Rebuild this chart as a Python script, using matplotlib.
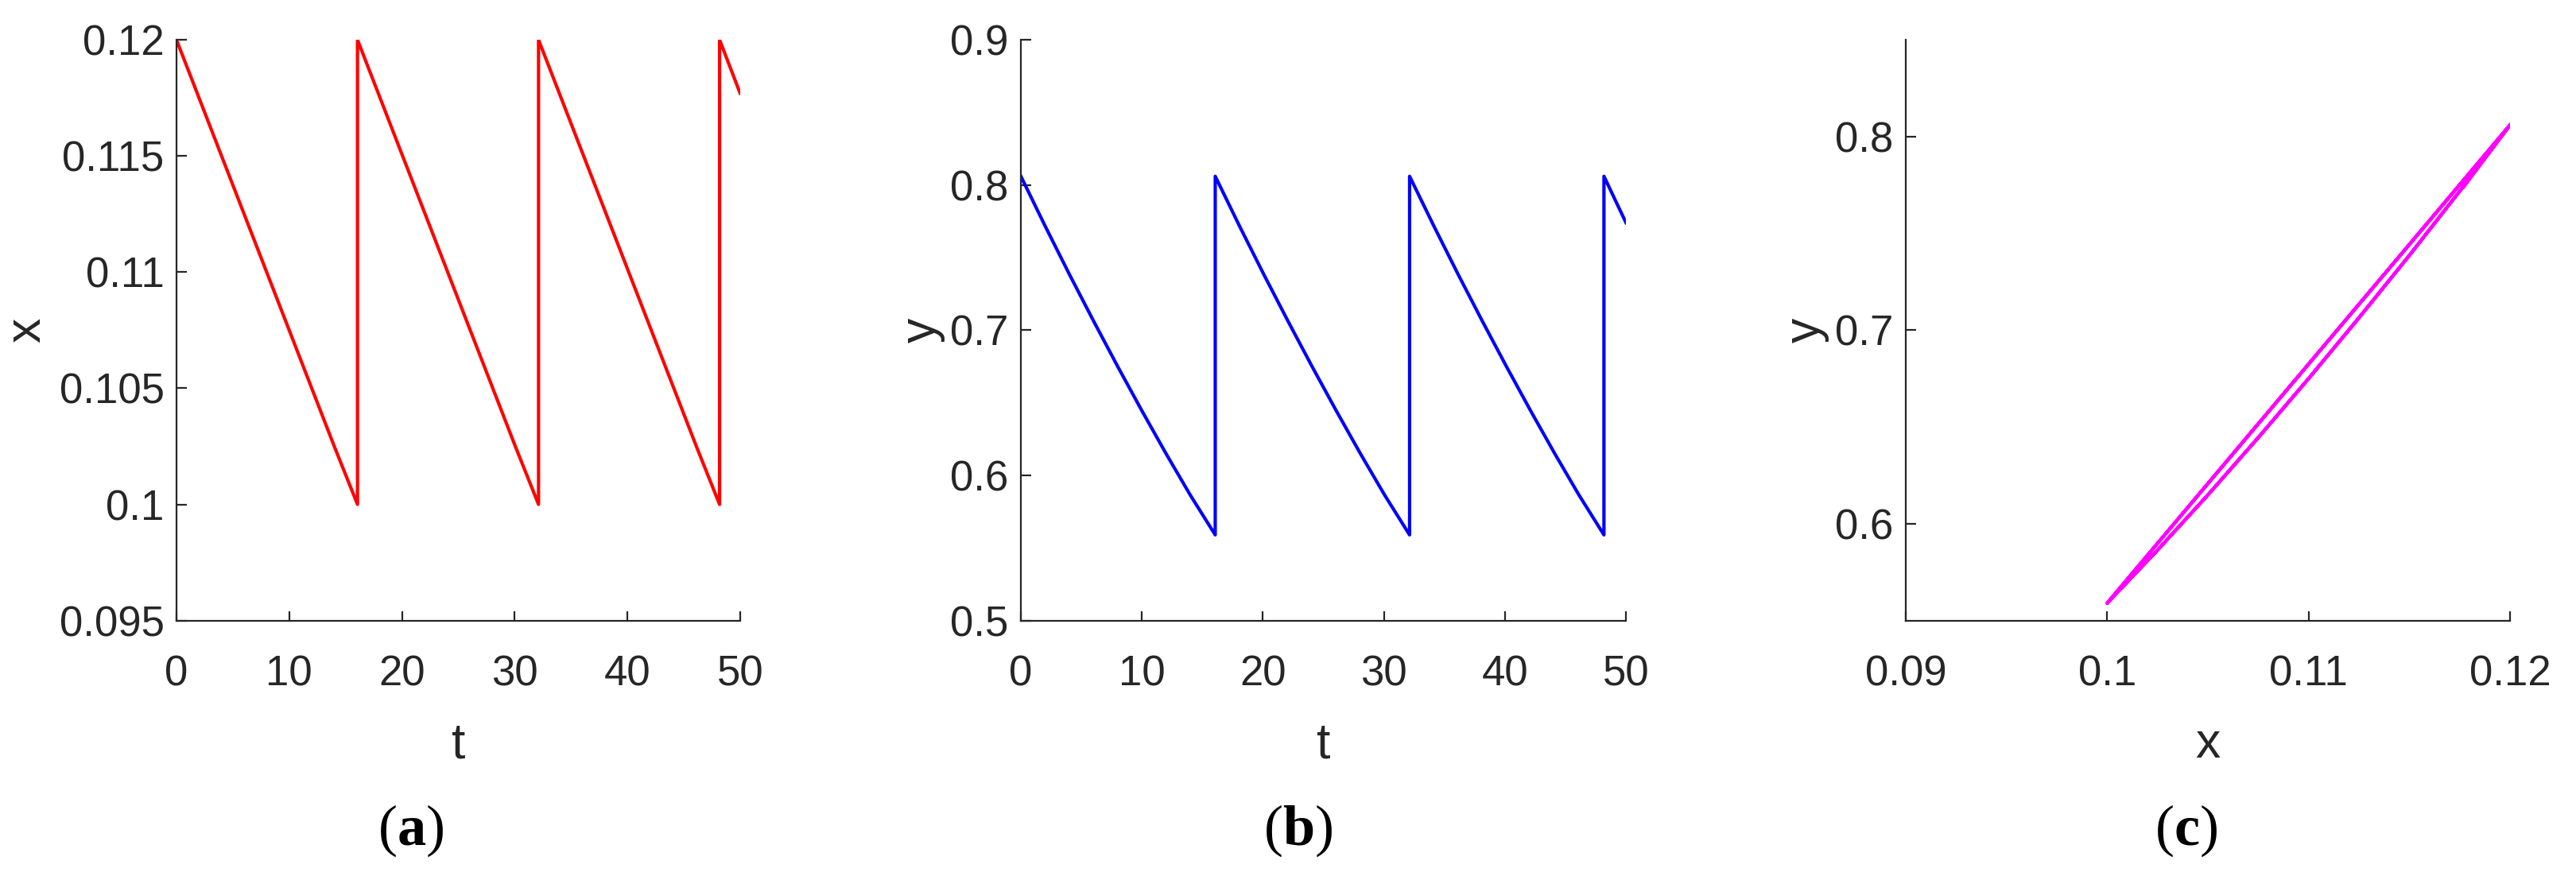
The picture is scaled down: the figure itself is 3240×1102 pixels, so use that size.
import matplotlib
matplotlib.use("Agg")
import matplotlib.pyplot as plt
from matplotlib.ticker import FixedLocator

# trajectory (vertical jumps = repeated t)
t_vals = [0, 2, 4, 6, 8, 10, 12, 14, 16.06,
          16.06, 18.06, 20.06, 22.06, 24.06, 26.06, 28.06, 30.06, 32.12,
          32.12, 34.12, 36.12, 38.12, 40.12, 42.12, 44.12, 46.12, 48.18,
          48.18, 50]
x_vals = [0.12, 0.1175, 0.1150, 0.1125, 0.1100, 0.1075, 0.1050, 0.1025, 0.1000,
          0.12, 0.1175, 0.1150, 0.1125, 0.1100, 0.1075, 0.1050, 0.1025, 0.1000,
          0.12, 0.1175, 0.1150, 0.1125, 0.1100, 0.1075, 0.1050, 0.1025, 0.1000,
          0.12, 0.1177]
y_vals = [0.806, 0.7718, 0.7386, 0.7064, 0.6750, 0.6445, 0.6149, 0.5864, 0.559,
          0.806, 0.7718, 0.7386, 0.7064, 0.6750, 0.6445, 0.6149, 0.5864, 0.559,
          0.806, 0.7718, 0.7386, 0.7064, 0.6750, 0.6445, 0.6149, 0.5864, 0.559,
          0.806, 0.774]

t_ticks = [0, 10, 20, 30, 40, 50]
xa_ticks = [0.095, 0.1, 0.105, 0.11, 0.115, 0.12]
yb_ticks = [0.5, 0.6, 0.7, 0.8, 0.9]
xc_ticks = [0.09, 0.1, 0.11, 0.12]
yc_ticks = [0.6, 0.7, 0.8]
panel_tags = ["a", "b", "c"]

plt.rcParams["font.family"] = ["Liberation Sans", "DejaVu Sans"]
plt.rcParams["mathtext.fontset"] = "custom"
plt.rcParams["mathtext.rm"] = "Liberation Serif"
plt.rcParams["mathtext.bf"] = "Liberation Serif:bold"

INK = "#262626"
TICK_FS = 38
LABEL_FS = 45


def fmt(v):
    s = ("%.3f" % v).rstrip("0").rstrip(".")
    return s


def style(ax, xticks, yticks):
    for side in ("top", "right"):
        ax.spines[side].set_visible(False)
    for side in ("left", "bottom"):
        ax.spines[side].set_color(INK)
        ax.spines[side].set_linewidth(1.6)
    ax.xaxis.set_major_locator(FixedLocator(xticks))
    ax.yaxis.set_major_locator(FixedLocator(yticks))
    ax.set_xticklabels([fmt(v) for v in xticks])
    ax.set_yticklabels([fmt(v) for v in yticks])
    ax.tick_params(axis="both", direction="in", length=9, width=1.6, color=INK,
                   labelcolor=INK, labelsize=TICK_FS)
    ax.tick_params(axis="x", pad=31)
    ax.tick_params(axis="y", pad=11)


fig = plt.figure(figsize=(32.4, 11.02), dpi=100)
bottom, height = 0.2916, 0.663
ax_a = fig.add_axes([0.0685, bottom, 0.2188, height])
ax_b = fig.add_axes([0.3963, bottom, 0.2349, height])
ax_c = fig.add_axes([0.7398, bottom, 0.2346, height])

ax_a.plot(t_vals, x_vals, color=(1, 0, 0), lw=3)
ax_a.set_xlim(0, 50)
ax_a.set_ylim(0.095, 0.12)
style(ax_a, t_ticks, xa_ticks)
ax_a.set_xlabel("t", fontsize=LABEL_FS, color=INK, labelpad=24)
ax_a.set_ylabel("x", fontsize=LABEL_FS, color=INK, labelpad=8)

ax_b.plot(t_vals, y_vals, color=(0, 0, 1), lw=3)
ax_b.set_xlim(0, 50)
ax_b.set_ylim(0.5, 0.9)
style(ax_b, t_ticks, yb_ticks)
ax_b.set_xlabel("t", fontsize=LABEL_FS, color=INK, labelpad=24)
ax_b.set_ylabel("y", fontsize=LABEL_FS, color=INK, labelpad=5)

ax_c.plot(x_vals, y_vals, color=(1, 0, 1), lw=3)
ax_c.set_xlim(0.09, 0.12)
ax_c.set_ylim(0.55, 0.85)
style(ax_c, xc_ticks, yc_ticks)
ax_c.set_xlabel("x", fontsize=LABEL_FS, color=INK, labelpad=24)
ax_c.set_ylabel("y", fontsize=LABEL_FS, color=INK, labelpad=5)

tag_x = [517 / 3240, 1633 / 3240, 2750 / 3240]
for tag, tx in zip(panel_tags, tag_x):
    fig.text(tx, 1 - 1045 / 1102, "(" + r"$\mathbf{" + tag + "}$" + ")",
             fontsize=52, family="Liberation Serif", color="black",
             ha="center", va="center")

fig.savefig("out.png", dpi=100)
